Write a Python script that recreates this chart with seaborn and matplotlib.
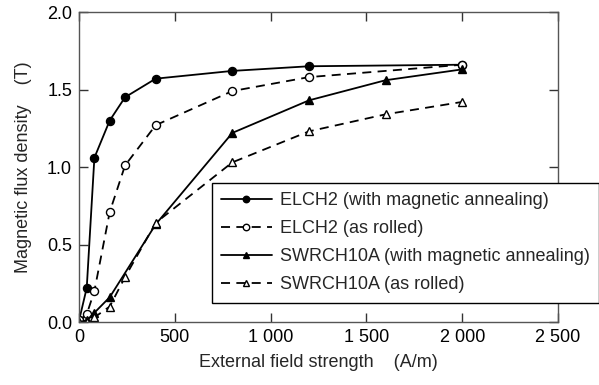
import matplotlib
matplotlib.use("Agg")
import matplotlib.pyplot as plt
import seaborn as sns
import pandas as pd

sns.set_style("ticks")
plt.rcParams['font.family'] = ['Liberation Sans', 'DejaVu Sans']

# Data
elch2_ann_x = [0, 40, 80, 160, 240, 400, 800, 1200, 2000]
elch2_ann_y = [0.01, 0.22, 1.06, 1.30, 1.45, 1.57, 1.62, 1.65, 1.66]

elch2_roll_x = [0, 40, 80, 160, 240, 400, 800, 1200, 2000]
elch2_roll_y = [0.01, 0.05, 0.20, 0.71, 1.01, 1.27, 1.49, 1.58, 1.66]

sw_ann_x = [0, 40, 80, 160, 400, 800, 1200, 1600, 2000]
sw_ann_y = [0.0, 0.01, 0.06, 0.16, 0.63, 1.22, 1.43, 1.56, 1.63]

sw_roll_x = [0, 40, 80, 160, 240, 400, 800, 1200, 1600, 2000]
sw_roll_y = [0.0, 0.0, 0.03, 0.10, 0.29, 0.64, 1.03, 1.23, 1.34, 1.42]

labels = ["ELCH2 (with magnetic annealing)", "ELCH2 (as rolled)",
          "SWRCH10A (with magnetic annealing)", "SWRCH10A (as rolled)"]
x_ticks = [0, 500, 1000, 1500, 2000, 2500]
x_tick_labels = ["0", "500", "1 000", "1 500", "2 000", "2 500"]
y_ticks = [0.0, 0.5, 1.0, 1.5, 2.0]
y_tick_labels = ["0.0", "0.5", "1.0", "1.5", "2.0"]

FS = 13

fig = plt.figure(figsize=(5.99, 3.85), dpi=100)
ax = fig.add_axes([0.132, 0.1636, 0.7996, 0.8052])

series = [
    (elch2_ann_x, elch2_ann_y, labels[0], 'o', 'black', None),
    (elch2_roll_x, elch2_roll_y, labels[1], 'o', 'white', (5, 3.5)),
    (sw_ann_x, sw_ann_y, labels[2], '^', 'black', None),
    (sw_roll_x, sw_roll_y, labels[3], '^', 'white', (5, 3.5)),
]
for xs, ys, lab, mk, fc, dash in series:
    df = pd.DataFrame({"x": xs, "y": ys})
    kw = dict(data=df, x="x", y="y", ax=ax, color='black', marker=mk,
              markerfacecolor=fc, markeredgecolor='black', markersize=5.8,
              markeredgewidth=1.0, linewidth=1.3, label=lab)
    kw['linestyle'] = '-' if dash is None else (0, dash)
    sns.lineplot(**kw)

ax.set_xlim(0, 2500)
ax.set_ylim(0, 2.0)
ax.set_xticks(x_ticks)
ax.set_xticklabels(x_tick_labels)
ax.set_yticks(y_ticks)
ax.set_yticklabels(y_tick_labels)
ax.tick_params(direction='in', length=6.5, width=1.0, top=True, right=True,
               labelsize=FS, colors='#333333', labelcolor='black', pad=5)
for s in ax.spines.values():
    s.set_color('#555555')
    s.set_linewidth(1.0)
    s.set_visible(True)

ax.set_xlabel("External field strength    (A/m)", fontsize=FS, labelpad=6)
ax.set_ylabel("Magnetic flux density    (T)", fontsize=FS, labelpad=11)

leg = ax.legend(loc='upper left', bbox_to_anchor=(0.354, 0.525),
                bbox_transform=fig.transFigure, borderaxespad=0,
                fontsize=FS, frameon=True, fancybox=False, framealpha=1,
                edgecolor='black', handlelength=2.8, handletextpad=0.45,
                labelspacing=0.62, markerscale=0.8, borderpad=0.5)
leg.get_frame().set_linewidth(1.0)

fig.savefig("out.png", dpi=100)
